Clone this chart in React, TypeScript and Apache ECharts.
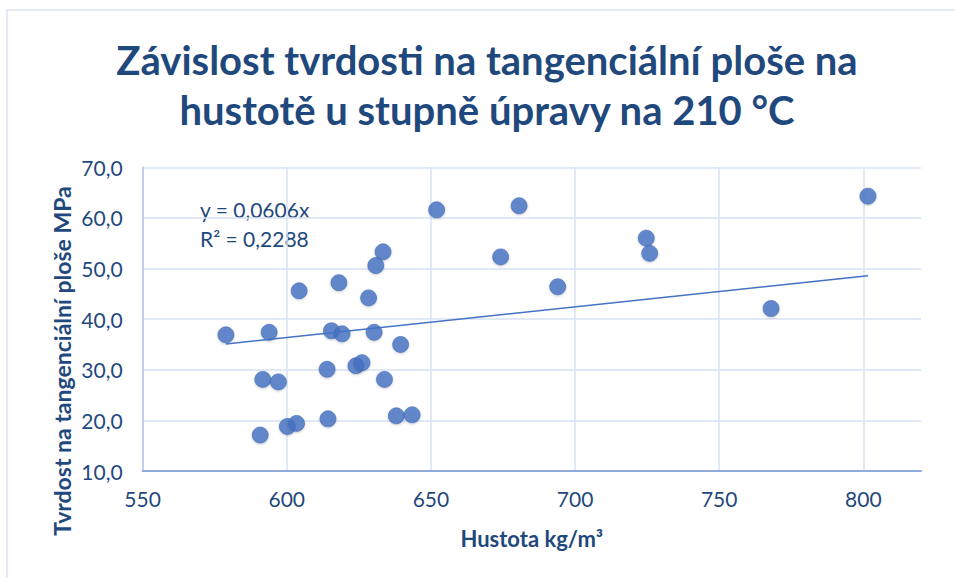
import React, { useEffect, useRef } from "react";
import * as echarts from "echarts";

const titleLines = ["Závislost tvrdosti na tangenciální ploše na", "hustotě u stupně úpravy na 210 °C"];
const xAxisName = "Hustota kg/m³";
const yAxisName = "Tvrdost na tangenciální ploše MPa";
const equationLines = ["y = 0,0606x", "R² = 0,2288"];
const trendSlope = 0.0606;

const density = [
  578.9, 593.9, 591.7, 597.1, 590.8, 600.2, 603.4, 604.3,
  633.4, 630.9, 618.1, 628.4, 615.5, 619.2, 630.3, 639.5,
  614.0, 624.0, 626.1, 633.9, 614.3, 638.0, 643.5,
  652.0, 680.6, 674.2, 694.0,
  724.7, 725.9, 768.0, 801.6,
];
const hardness = [
  36.9, 37.4, 28.1, 27.6, 17.1, 18.8, 19.4, 45.6,
  53.3, 50.6, 47.2, 44.2, 37.7, 37.1, 37.4, 35.0,
  30.1, 30.8, 31.4, 28.1, 20.3, 20.9, 21.1,
  61.6, 62.4, 52.3, 46.4,
  56.0, 53.0, 42.1, 64.3,
];

const TEXT = "#1F497D";
const FONT = "Lato, 'Open Sans', sans-serif";

export default function App() {
  const ref = useRef<HTMLDivElement>(null);
  useEffect(() => {
    if (!ref.current) return;
    const chart = echarts.init(ref.current, undefined, { renderer: "svg" });
    const points = density.map((x, i) => [x, hardness[i]]);
    const xMin = Math.min(...density);
    const xMax = Math.max(...density);
    const trend = [
      [xMin, trendSlope * xMin],
      [xMax, trendSlope * xMax],
    ];
    chart.setOption({
      animation: false,
      backgroundColor: "#ffffff",
      textStyle: { fontFamily: FONT },
      grid: { left: 142.6, right: 34, top: 167.3, bottom: 107, outerBoundsMode: "none" },
      xAxis: {
        type: "value",
        min: 550,
        max: 820,
        interval: 50,
        name: xAxisName,
        nameLocation: "middle",
        nameGap: 56,
        nameTextStyle: { color: TEXT, fontSize: 22, fontWeight: "bold", fontFamily: FONT },
        axisLine: { show: true, lineStyle: { color: "#8FAADC", width: 2 } },
        axisTick: { show: false },
        axisLabel: { color: TEXT, fontSize: 21, margin: 17, showMaxLabel: false, fontFamily: FONT },
        splitLine: { show: true, showMaxLine: false, lineStyle: { color: "#D9E2F3", width: 1.5 } },
      },
      yAxis: {
        type: "value",
        min: 10,
        max: 70,
        interval: 10,
        axisLine: { show: true, lineStyle: { color: "#B4C7E7", width: 1.5 } },
        axisTick: { show: false },
        axisLabel: {
          color: TEXT,
          fontSize: 21,
          margin: 20,
          fontFamily: FONT,
          formatter: (v: number) => v.toFixed(1).replace(".", ","),
        },
        splitLine: { show: true, lineStyle: { color: "#D9E2F3", width: 1.5 } },
      },
      series: [
        {
          type: "scatter",
          data: points,
          symbol: "circle",
          symbolSize: 16,
          itemStyle: {
            color: "#4472C4",
            borderColor: "#3E69B5",
            borderWidth: 0.8,
            shadowColor: "rgba(0,0,0,0.25)",
            shadowBlur: 2,
            shadowOffsetY: 1,
          },
          z: 2,
        },
        {
          type: "line",
          data: trend,
          symbol: "none",
          lineStyle: { color: "#4472C4", width: 1.5 },
          z: 3,
        },
      ],
      graphic: [
        {
          type: "rect",
          shape: { x: 7, y: 10, width: 1000, height: 700 },
          style: { fill: "none", stroke: "#DAE3F3", lineWidth: 1.5 },
          silent: true,
          z: 0,
        },
        {
          type: "text",
          x: 487,
          y: 60,
          style: {
            text: titleLines[0],
            fill: TEXT,
            font: `bold 40px ${FONT}`,
            textAlign: "center",
            textVerticalAlign: "middle",
          },
        },
        {
          type: "text",
          x: 487,
          y: 110,
          style: {
            text: titleLines[1],
            fill: TEXT,
            font: `bold 40px ${FONT}`,
            textAlign: "center",
            textVerticalAlign: "middle",
          },
        },
        {
          type: "text",
          x: 62,
          y: 361,
          rotation: Math.PI / 2,
          style: {
            text: yAxisName,
            fill: TEXT,
            font: `bold 23px ${FONT}`,
            textAlign: "center",
            textVerticalAlign: "middle",
          },
        },
        {
          type: "text",
          x: 200,
          y: 209,
          style: {
            text: equationLines[0],
            fill: TEXT,
            font: `21px ${FONT}`,
            textAlign: "left",
            textVerticalAlign: "middle",
          },
        },
        {
          type: "text",
          x: 200,
          y: 238,
          style: {
            text: equationLines[1],
            fill: TEXT,
            font: `21px ${FONT}`,
            textAlign: "left",
            textVerticalAlign: "middle",
          },
        },
      ],
    });
    return () => chart.dispose();
  }, []);
  return <div ref={ref} style={{ width: 955, height: 578, position: "absolute", left: 0, top: 0 }} />;
}
